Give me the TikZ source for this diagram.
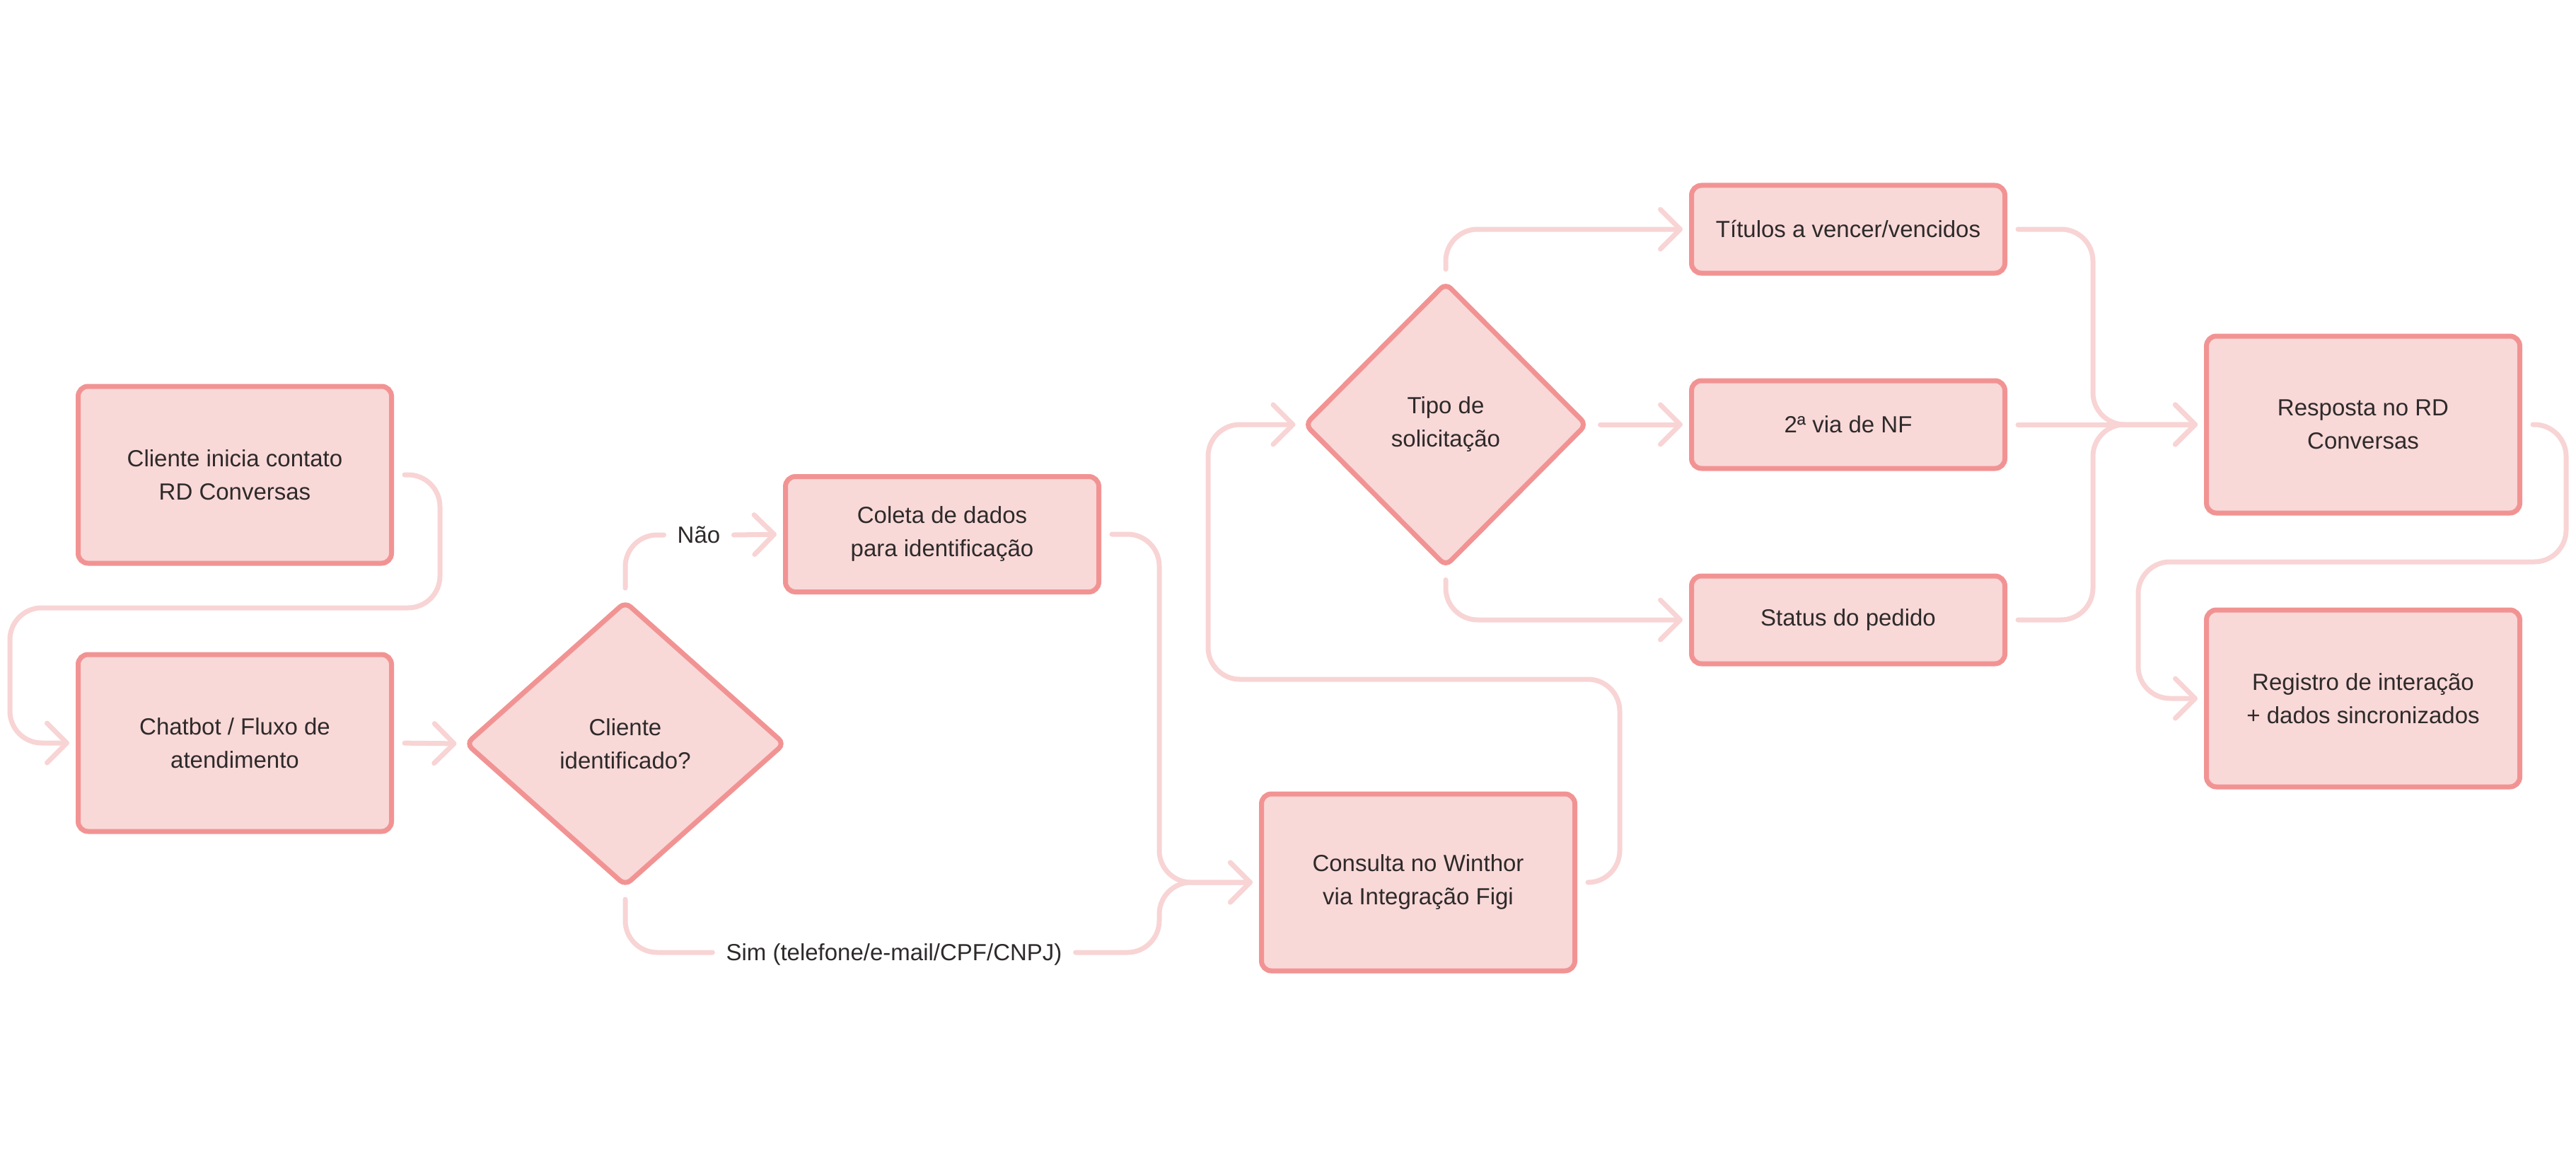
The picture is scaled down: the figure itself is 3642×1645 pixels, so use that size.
\documentclass[tikz,border=0pt]{standalone}
\usepackage{fontspec}
\setmainfont{Liberation Sans}
\usetikzlibrary{shapes.geometric}
\usetikzlibrary{arrows.meta}
\definecolor{boxline}{HTML}{F29393}
\definecolor{boxfill}{HTML}{F9D8D8}
\definecolor{linkcol}{HTML}{F8D4D5}
\definecolor{ink}{HTML}{2E2A2A}
\newcommand{\flowfont}{\fontsize{33}{47}\selectfont}

\begin{document}
\begin{tikzpicture}[x=1pt,y=-1pt,
    every node/.style={font=\flowfont, text=ink},
    proc/.style={draw=boxline, fill=boxfill, line width=7pt, rounded corners=14pt,
      align=center, inner sep=0pt, outer sep=3.5pt, minimum width=443pt, minimum height=250pt},
    proclow/.style={proc, minimum height=124pt},
    procmid/.style={proc, minimum height=163pt},
    decide/.style={diamond, draw=boxline, fill=boxfill, line width=7pt, rounded corners=10pt,
      align=center, inner sep=0pt, outer sep=3.5pt},
    tag/.style={inner xsep=19pt, inner ysep=0pt, text height=23pt, text depth=0pt},
    link/.style={draw=linkcol, line width=7pt, line cap=round, line join=round,
      rounded corners=45pt, shorten <=15pt},
    linkto/.style={link, -{Straight Barb[length=28pt,width=56pt,round]}, shorten >=9pt}]
  \useasboundingbox (0,0) rectangle (3642,1645);

  % boxes
  \node[proc] (cin) at (332,671) {Cliente inicia contato\\RD Conversas};
  \node[proc] (chat) at (332,1050) {Chatbot / Fluxo de\\atendimento};
  \node[decide, minimum width=452pt, minimum height=403pt] (ident) at (884,1051) {Cliente\\identificado?};
  \node[procmid] (coleta) at (1332,755) {Coleta de dados\\para identificação};
  \node[proc] (winthor) at (2005,1247) {Consulta no Winthor\\via Integração Figi};
  \node[decide, minimum width=400pt, minimum height=402pt] (tipo) at (2044,600) {Tipo de\\solicitação};
  \node[proclow] (titulos) at (2613,324) {Títulos a vencer/vencidos};
  \node[proclow] (segvia) at (2613,600) {2ª via de NF};
  \node[proclow] (status) at (2613,876) {Status do pedido};
  \node[proc] (resposta) at (3341,600) {Resposta no RD\\Conversas};
  \node[proc] (registro) at (3341,987) {Registro de interação\\+ dados sincronizados};

  % edge labels
  \node[tag] (nao) at (988,756) {Não};
  \node[tag] (sim) at (1264,1346) {Sim (telefone/e-mail/CPF/CNPJ)};

  % connectors
  \draw[linkto] (cin.east) -- ++(65,0) |- ++(-608,188) |- (chat.west);
  \draw[linkto] (chat.east) -- (ident.west);
  \draw[link] (ident.north) |- (nao.west);
  \draw[linkto, shorten <=0pt] (nao.east) -- (coleta.west);
  \draw[link] (ident.south) |- (sim.west);
  \draw[linkto, shorten <=0pt] (sim.east) -| ([xshift=-141pt]winthor.west) -- (winthor.west);
  \draw[linkto] (coleta.east) -| ([xshift=-141pt]winthor.west) -- (winthor.west);
  \draw[linkto] (winthor.east) -- ++(60,0) |- (1708,960) |- (tipo.west);
  \draw[linkto] (tipo.north) |- (titulos.west);
  \draw[linkto] (tipo.east) -- (segvia.west);
  \draw[linkto] (tipo.south) |- (status.west);
  \draw[linkto] (titulos.east) -| ([xshift=-157pt]resposta.west) -- (resposta.west);
  \draw[linkto] (segvia.east) -- (resposta.west);
  \draw[linkto] (status.east) -| ([xshift=-157pt]resposta.west) -- (resposta.west);
  \draw[linkto] (resposta.east) -- ++(62,0) |- (3023,794) |- (registro.west);
\end{tikzpicture}
\end{document}
